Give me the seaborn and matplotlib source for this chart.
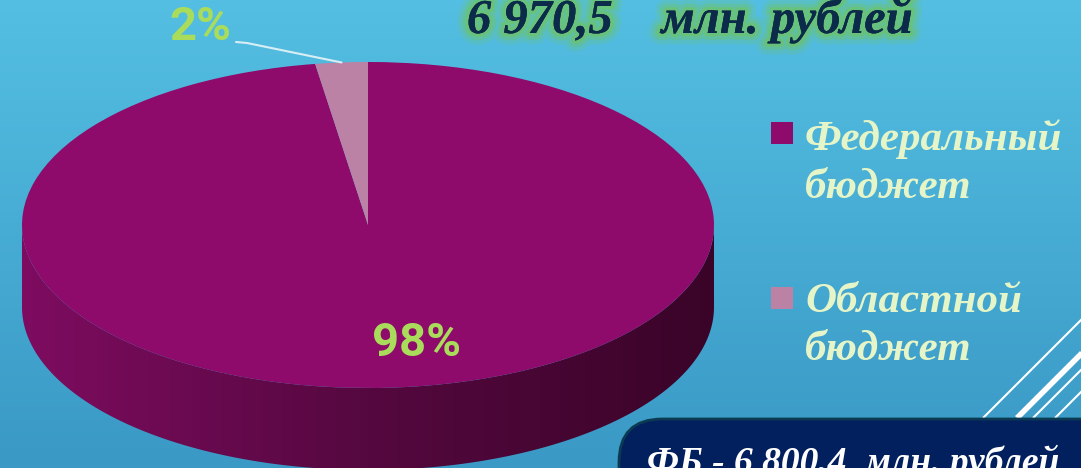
import numpy as np
import matplotlib
matplotlib.use("Agg")
import matplotlib.pyplot as plt
import matplotlib.patheffects as pe
from matplotlib.colors import LinearSegmentedColormap
from matplotlib.patches import Polygon, Rectangle, FancyBboxPatch
import seaborn as sns

# данные
categories = ["Федеральный\nбюджет", "Областной\nбюджет"]
values = [6800.4, 170.1]          # млн. рублей
colors = ["#8e0a6b", "#bb82a5"]
total_text = "6 970,5    млн. рублей"
fb_text = "ФБ - 6 800,4  млн. рублей"

sns.set_style("white")
plt.rcParams["font.family"] = ["Liberation Serif", "DejaVu Serif"]

W, H = 1081, 468
fig = plt.figure(figsize=(W / 100, H / 100), dpi=100)

# фон - градиент (сверху светлее)
bg = fig.add_axes([0, 0, 1, 1])
bg.axis("off")
grad = np.linspace(0, 1, 256).reshape(-1, 1)
bg_cmap = LinearSegmentedColormap.from_list("bg", ["#54bfe2", "#3a99c5"])
bg.imshow(grad, aspect="auto", cmap=bg_cmap, extent=[0, 1, 1, 0])
bg.set_xlim(0, 1)
bg.set_ylim(1, 0)

# диагональные линии справа внизу
for x0, lw in [(983, 1.5), (1017, 4), (1033, 1.5), (1055, 1.5)]:
    bg.plot([x0 / W, (x0 + 110) / W], [418 / H, 308 / H], color="white", lw=lw,
            solid_capstyle="butt")

# пирог (сплюснутый, "3D")
cx, cy, rx, ry, depth = 368, 225, 346, 163, 82
ax = fig.add_axes([0, 0, 1, 1])
ax.axis("off")
ax.patch.set_alpha(0)
wedges, _ = ax.pie(values, colors=colors, startangle=90, counterclock=False,
                   wedgeprops=dict(linewidth=0))
for w in wedges:
    w.set_zorder(3)

# боковая стенка
d = depth / ry
t = np.linspace(np.pi, 2 * np.pi, 200)
top = np.column_stack([np.cos(t), np.sin(t)])
bot = np.column_stack([np.cos(t[::-1]), np.sin(t[::-1]) - d])
side = Polygon(np.vstack([top, bot]), closed=True, facecolor="none", edgecolor="none")
ax.add_patch(side)
side_cmap = LinearSegmentedColormap.from_list("side", ["#7e0c60", "#55083f", "#3a0428"])
im = ax.imshow(np.linspace(0, 1, 256).reshape(1, -1), cmap=side_cmap, aspect="auto",
               extent=[-1, 1, -1 - d, 0.1], zorder=2)
im.set_clip_path(side)
ax.set_aspect("auto")
ax.set_xlim(-cx / rx, (W - cx) / rx)
ax.set_ylim(-(H - cy) / ry, cy / ry)

# подписи процентов
total = sum(values)
pct = [f"{round(v / total * 100)}%" for v in values]
green = "#a9dc5b"
pct_font = ["Roboto", "DejaVu Sans"]
ax.text((417 - cx) / rx, (cy - 343) / ry, pct[0], color=green, fontsize=34,
        fontweight="bold", family=pct_font, ha="center", va="center", zorder=5)
ax.text((200 - cx) / rx, (cy - 27) / ry, pct[1], color=green, fontsize=34,
        fontweight="bold", family=pct_font, ha="center", va="center", zorder=5)
mid = np.deg2rad(90 + 360 * values[1] / total / 2)
ax.plot([(236 - cx) / rx, (247 - cx) / rx, np.cos(mid)],
        [(cy - 42) / ry, (cy - 43) / ry, np.sin(mid)],
        color="#d8eef5", lw=1.5, zorder=5)

# заголовок
glow = "#6ec462"
fig.text(690 / W, 1 - 33 / H, total_text, color="#0c2b4a", fontsize=35,
         fontweight="bold", style="italic", ha="center", va="baseline",
         path_effects=[pe.withStroke(linewidth=16, foreground=glow, alpha=0.2),
                       pe.withStroke(linewidth=10, foreground=glow, alpha=0.35),
                       pe.withStroke(linewidth=5, foreground=glow, alpha=0.6),
                       pe.Normal()])

# легенда
leg_color = "#e6f5c8"
for (label, col, sq_top, base1) in zip(categories, colors, [122, 287], [150, 312]):
    fig.patches.append(Rectangle((771 / W, 1 - (sq_top + 22) / H), 22 / W, 22 / H,
                                 transform=fig.transFigure, facecolor=col, edgecolor="none"))
    first, second = label.split("\n")
    fig.text(805 / W, 1 - base1 / H, first, color=leg_color, fontsize=31,
             fontweight="bold", style="italic", va="baseline")
    fig.text(805 / W, 1 - (base1 + 48) / H, second, color=leg_color, fontsize=31,
             fontweight="bold", style="italic", va="baseline")

# плашка ФБ
box = FancyBboxPatch((619 / W, -0.2), 600 / W, 1 - 419 / H + 0.2,
                     boxstyle="round,pad=0,rounding_size=0.04",
                     transform=fig.transFigure, facecolor="#021f5e",
                     edgecolor="#0b3b52", linewidth=2, mutation_aspect=W / H)
fig.patches.append(box)
fig.text(647 / W, 1 - 473 / H, fb_text, color="white", fontsize=27,
         fontweight="bold", style="italic", va="baseline")

fig.savefig("out.png", dpi=100)
